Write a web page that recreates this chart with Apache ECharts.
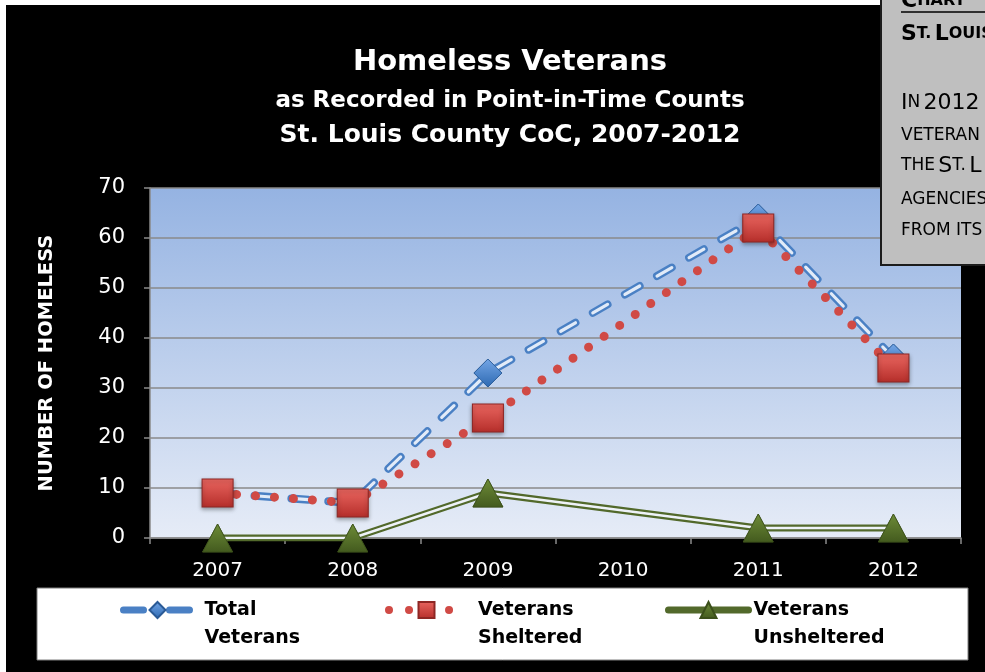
<!DOCTYPE html>
<html>
<head>
<meta charset="utf-8">
<script src="https://cdn.jsdelivr.net/npm/echarts@6/dist/echarts.min.js"></script>
<style>html,body{margin:0;padding:0;background:#fff;}#c{width:985px;height:672px;}</style>
</head>
<body>
<div id="c"></div>
<script>
const years = ['2007', '2008', '2009', '2010', '2011', '2012'];
const totalVeterans = [9, 7, 33, null, 64, 36];
const vetsSheltered = [9, 7, 24, null, 62, 34];
const vetsUnsheltered = [0, 0, 9, null, 2, 2];
const yMin = 0, yMax = 70, yStep = 10;
const titleLines = ['Homeless Veterans', 'as Recorded in Point-in-Time Counts', 'St. Louis County CoC, 2007-2012'];
const yAxisName = 'NUMBER OF HOMELESS';
const legendLabels = {
  'Total Veterans': '\nTotal\nVeterans',
  'Veterans Sheltered': '\nVeterans\nSheltered',
  'Veterans Unsheltered': '\nVeterans\nUnsheltered'
};

const FONT = '"DejaVu Sans", sans-serif';
const grad = (a, b) => new echarts.graphic.LinearGradient(0, 0, 0, 1, [{offset: 0, color: a}, {offset: 1, color: b}]);

const chart = echarts.init(document.getElementById('c'), null, {renderer: 'canvas'});

const legendText = (padLeft) => ({color: '#000', fontFamily: FONT, fontWeight: 'bold', fontSize: 19, lineHeight: 28, padding: [0, 0, 0, padLeft]});

const boxRich = (bold) => ({
  b: {fontSize: 22, fontWeight: bold ? 'bold' : 'normal', fontFamily: FONT, fill: '#000'},
  s: {fontSize: bold ? 16 : 17, fontWeight: bold ? 'bold' : 'normal', fontFamily: FONT, fill: '#000'}
});

const option = {
  animation: false,
  backgroundColor: '#000',
  textStyle: {fontFamily: FONT},
  title: [
    {text: titleLines[0], left: 510, top: 48, textAlign: 'center', padding: 0, textStyle: {color: '#fff', fontSize: 29, fontWeight: 'bold', fontFamily: FONT}},
    {text: titleLines[1], left: 510, top: 90, textAlign: 'center', padding: 0, textStyle: {color: '#fff', fontSize: 23, fontWeight: 'bold', fontFamily: FONT}},
    {text: titleLines[2], left: 510, top: 123, textAlign: 'center', padding: 0, textStyle: {color: '#fff', fontSize: 25, fontWeight: 'bold', fontFamily: FONT}}
  ],
  grid: {
    left: 150, right: 24, top: 188, bottom: 134, show: true,
    backgroundColor: grad('#95b3e2', '#e6ecf7'), borderWidth: 0
  },
  xAxis: {
    type: 'category', data: years, boundaryGap: true,
    axisLine: {lineStyle: {color: '#8a8a8a', width: 1.5}},
    axisTick: {show: true, length: 6, lineStyle: {color: '#8a8a8a', width: 1.5}},
    axisLabel: {color: '#fff', fontSize: 20, margin: 23, fontFamily: FONT}
  },
  yAxis: {
    type: 'value', min: yMin, max: yMax, interval: yStep,
    name: yAxisName, nameLocation: 'middle', nameGap: 93,
    nameTextStyle: {color: '#fff', fontSize: 19.5, fontWeight: 'bold', fontFamily: FONT},
    axisLine: {show: true, lineStyle: {color: '#8a8a8a', width: 1.5}},
    axisTick: {show: true, length: 6, lineStyle: {color: '#8a8a8a', width: 1.5}},
    axisLabel: {color: '#fff', fontSize: 21, margin: 25, fontFamily: FONT},
    splitLine: {lineStyle: {color: '#8a8a8a', width: 1.5}}
  },
  legend: [
    {data: ['Total Veterans'], left: 120, top: 568, itemWidth: 68, itemHeight: 20, padding: 0, selectedMode: false,
      formatter: n => legendLabels[n], textStyle: legendText(8),
      lineStyle: {width: 7, type: [20, 26], cap: 'round'}},
    {data: ['Veterans Sheltered'], left: 385, top: 568, itemWidth: 75, itemHeight: 20, padding: 0, selectedMode: false,
      formatter: n => legendLabels[n], textStyle: legendText(9),
      lineStyle: {width: 8, type: [0.01, 20], cap: 'round'}},
    {data: ['Veterans Unsheltered'], left: 665, top: 568, itemWidth: 80, itemHeight: 20, padding: 0, selectedMode: false,
      formatter: n => legendLabels[n], textStyle: legendText(0),
      lineStyle: {width: 7, cap: 'round'}}
  ],
  graphic: [
    {type: 'rect', z: 100, shape: {x: 0, y: 0, width: 6, height: 672}, style: {fill: '#fff'}},
    {type: 'rect', z: 100, shape: {x: 0, y: 0, width: 985, height: 5}, style: {fill: '#fff'}},
    {type: 'rect', z: 0, shape: {x: 37, y: 588, width: 931, height: 72}, style: {fill: '#fff', stroke: '#7f7f7f', lineWidth: 1}},
    {type: 'rect', z: 101, shape: {x: 881, y: -3, width: 110, height: 268}, style: {fill: '#bfbfbf', stroke: '#1c1c1c', lineWidth: 2}},
    {type: 'line', z: 102, shape: {x1: 901, y1: 12, x2: 985, y2: 12}, style: {stroke: '#000', lineWidth: 1.5}},
    {type: 'text', z: 102, left: 901, top: -10, style: {text: '{b|C}{s|HART}', rich: boxRich(true)}},
    {type: 'text', z: 102, left: 901, top: 23, style: {text: '{b|S}{s|T.} {b|L}{s|OUIS}', rich: boxRich(true)}},
    {type: 'text', z: 102, left: 901, top: 92, style: {text: '{b|I}{s|N} {b|2012}', rich: boxRich(false)}},
    {type: 'text', z: 102, left: 901, top: 127, style: {text: '{s|VETERAN}', rich: boxRich(false)}},
    {type: 'text', z: 102, left: 901, top: 155, style: {text: '{s|THE} {b|S}{s|T.} {b|L}', rich: boxRich(false)}},
    {type: 'text', z: 102, left: 901, top: 191, style: {text: '{s|AGENCIES}', rich: boxRich(false)}},
    {type: 'text', z: 102, left: 901, top: 222, style: {text: '{s|FROM ITS}', rich: boxRich(false)}}
  ],
  series: [
    {name: 'Total Veterans', type: 'line', data: totalVeterans, connectNulls: true, z: 2,
      symbol: 'diamond', symbolSize: [28, 28],
      itemStyle: {color: grad('#74a6e6', '#2d69b2'), borderColor: '#2a5a96', borderWidth: 0.8},
      lineStyle: {color: '#4a80c4', width: 8, type: [17, 20], cap: 'round'},
      emphasis: {disabled: true}},
    {name: '_totalInner', type: 'line', data: totalVeterans, connectNulls: true, z: 3, silent: true,
      showSymbol: false, symbol: 'none',
      lineStyle: {color: '#e2ebf8', width: 3.2, type: [17, 20], cap: 'round'},
      emphasis: {disabled: true}},
    {name: '_totalMk', type: 'line', data: totalVeterans, connectNulls: true, z: 4, silent: true,
      symbol: 'diamond', symbolSize: [28, 28],
      itemStyle: {color: grad('#74a6e6', '#2d69b2'), borderColor: '#2a5a96', borderWidth: 0.8},
      lineStyle: {width: 0, opacity: 0},
      emphasis: {disabled: true}},
    {name: 'Veterans Sheltered', type: 'line', data: vetsSheltered, connectNulls: true, z: 5,
      symbol: 'rect', symbolSize: [31, 28],
      itemStyle: {color: grad('#ea6660', '#b52e2a'), borderColor: '#8e2724', borderWidth: 1,
        shadowColor: 'rgba(0,0,0,0.35)', shadowBlur: 4, shadowOffsetY: 2},
      lineStyle: {color: '#d04a45', width: 9, type: [0.01, 19], cap: 'round'},
      emphasis: {disabled: true}},
    {name: 'Veterans Unsheltered', type: 'line', data: vetsUnsheltered, connectNulls: true, z: 6,
      symbol: 'triangle', symbolSize: [30, 28],
      itemStyle: {color: grad('#6e8c38', '#435a1e'), borderColor: '#3b4f1a', borderWidth: 0.8},
      lineStyle: {color: '#52692b', width: 7},
      emphasis: {disabled: true}},
    {name: '_unshInner', type: 'line', data: vetsUnsheltered, connectNulls: true, z: 7, silent: true,
      showSymbol: false, symbol: 'none',
      lineStyle: {color: '#eef2f8', width: 2.5},
      emphasis: {disabled: true}},
    {name: '_unshMk', type: 'line', data: vetsUnsheltered, connectNulls: true, z: 8, silent: true,
      symbol: 'triangle', symbolSize: [30, 28],
      itemStyle: {color: grad('#6e8c38', '#435a1e'), borderColor: '#3b4f1a', borderWidth: 0.8},
      lineStyle: {width: 0, opacity: 0},
      emphasis: {disabled: true}}
  ]
};
chart.setOption(option);
</script>
</body>
</html>
